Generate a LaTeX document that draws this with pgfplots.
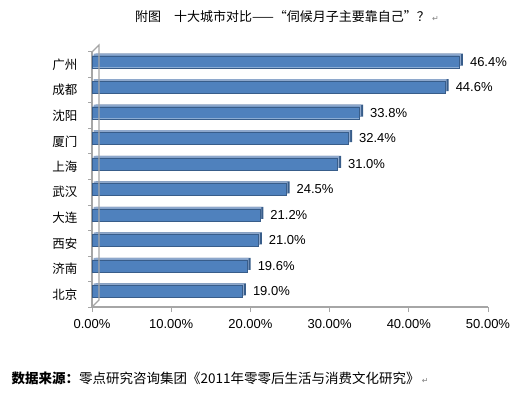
\documentclass[border=0pt]{standalone}
\usepackage{fontspec}
\setmainfont{Liberation Sans}
\newfontfamily\cjk{Noto Sans CJK SC}
\newfontfamily\sym{DejaVu Sans}
\usepackage{pgfplots}
\pgfplotsset{compat=1.18}
\definecolor{barblue}{HTML}{4F81BD}
\definecolor{bardark}{HTML}{385D8A}
\definecolor{bartop}{HTML}{8EA8CC}
\definecolor{axgray}{HTML}{A6A6A6}
\pgfplotstableread{
v c
19.0 0
19.6 1
21.0 2
21.2 3
24.5 4
31.0 5
32.4 6
33.8 7
44.6 8
46.4 9
}\citydata
\begin{document}
\begin{tikzpicture}[x=1pt,y=1pt]
\useasboundingbox (0,0) rectangle (532,392);
\node[font=\cjk\fontsize{13}{15}\selectfont] at (287,375) {附图\quad 十大城市对比——“伺候月子主要靠自己”？\,{\sym\color{gray}\fontsize{8}{9}\selectfont ↵}};
\node[anchor=west,font=\cjk\fontsize{13.5}{15}\selectfont] at (8,14) {\textbf{数据来源：}零点研究咨询集团《2011年零零后生活与消费文化研究》\,{\sym\color{gray}\fontsize{8}{9}\selectfont ↵}};
\begin{axis}[
  at={(92pt,85pt)}, anchor=south west,
  scale only axis, width=396pt, height=255pt,
  xmin=0, xmax=50, ymin=-0.5, ymax=9.5,
  xbar, bar width=12pt, bar shift=3pt,
  axis x line*=bottom, axis y line*=left,
  axis line style={axgray, line width=1.2pt},
  xtick={0,10,20,30,40,50},
  xticklabel={\pgfmathprintnumber[fixed,precision=2,fixed zerofill]{\tick}\%},
  /pgf/number format/assume math mode=true,
  xticklabel style={font=\fontsize{13}{15}\selectfont, yshift=-4pt},
  ytick={0,...,9},
  yticklabels={北京,济南,西安,大连,武汉,上海,厦门,沈阳,成都,广州},
  yticklabel style={font=\cjk\fontsize{12.5}{14}\selectfont, xshift=-6pt},
  major y tick style={draw=none},
  minor ytick={-0.5,0.5,...,9.5},
  minor tick length=4pt,
  minor y tick style={axgray, line width=1pt},
  tick align=outside, major tick length=5pt,
  major x tick style={axgray, line width=1pt},
  clip=false,
]
\addplot[fill=bardark, draw=none, xshift=3.5pt, yshift=2pt] table[x=v,y=c] {\citydata};
\addplot[fill=bartop, draw=none, xshift=1.5pt, yshift=2pt] table[x=v,y=c] {\citydata};
\addplot[fill=barblue, draw=bardark, line width=0.4pt,
  nodes near coords={\pgfmathprintnumber[fixed,precision=1,fixed zerofill]{\pgfplotspointmeta}\%},
  nodes near coords style={font=\fontsize{13}{15}\selectfont, anchor=west, xshift=7pt, black}] table[x=v,y=c] {\citydata};
\draw[axgray, line width=1.2pt] (rel axis cs:0,1) -- ++(7pt,7pt) -- ([xshift=7pt,yshift=7pt]rel axis cs:0,0) -- (rel axis cs:0,0);
\end{axis}
\end{tikzpicture}
\end{document}
